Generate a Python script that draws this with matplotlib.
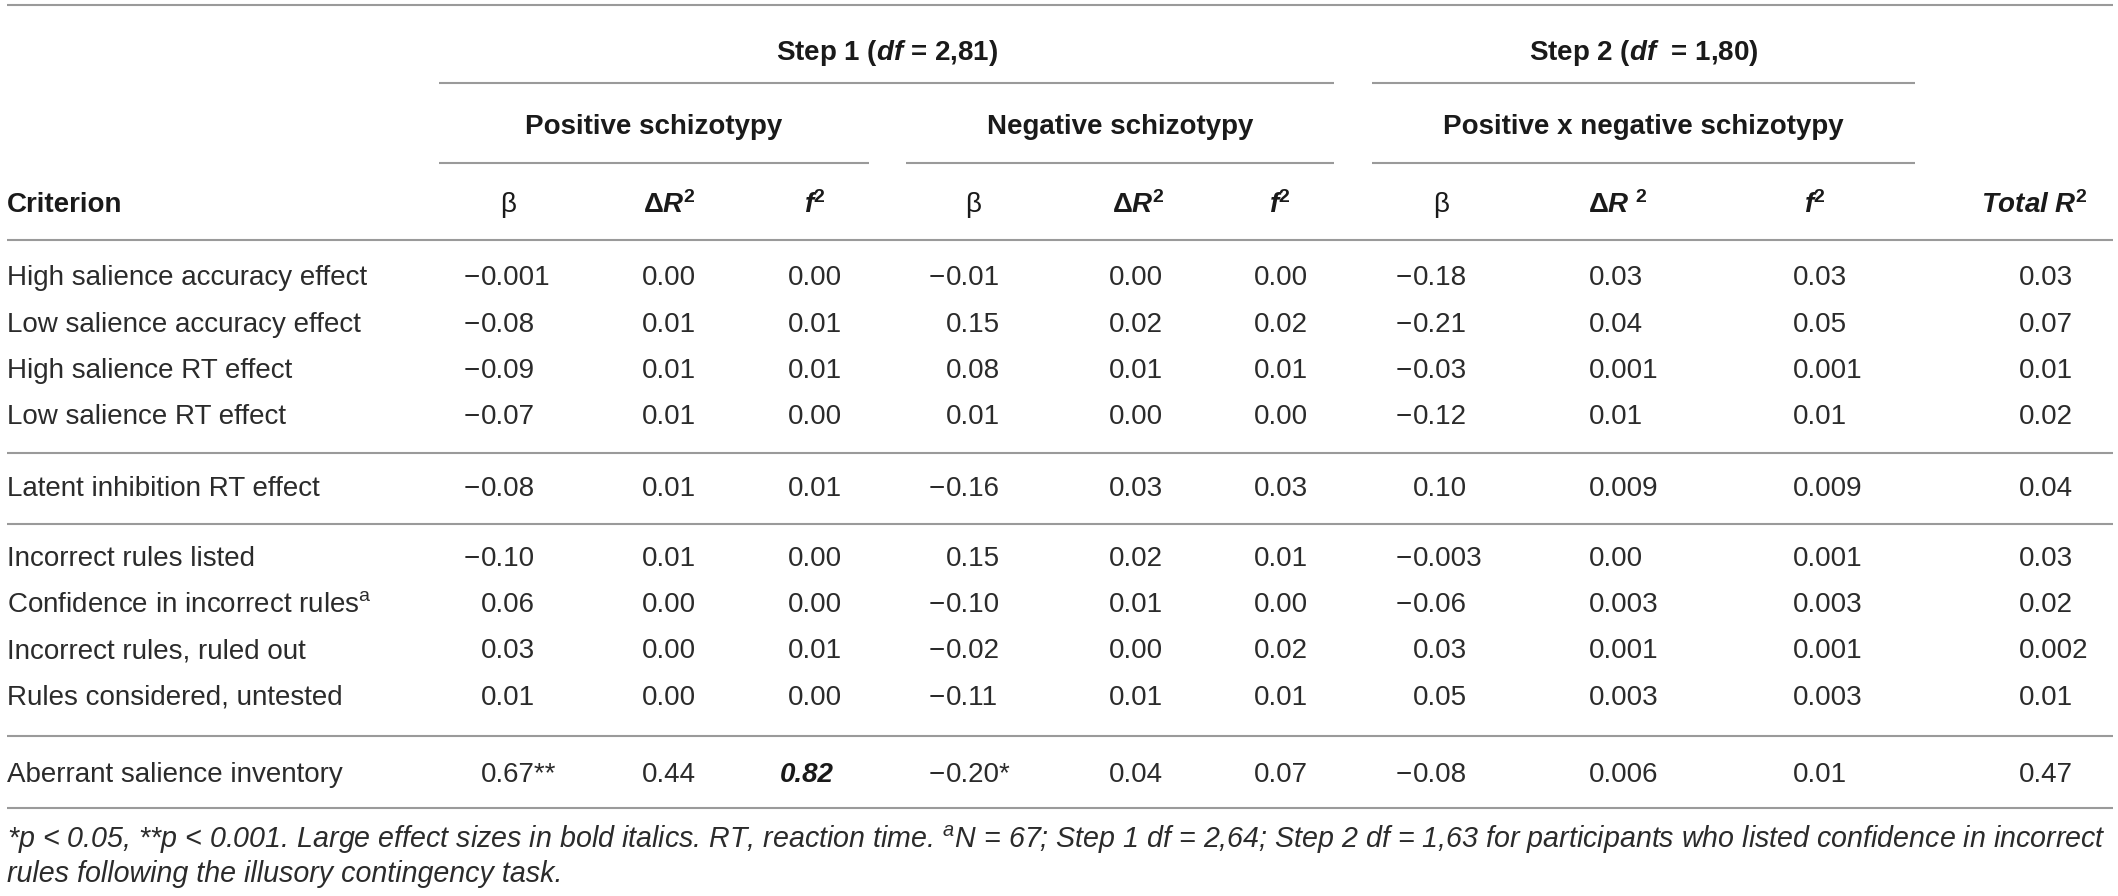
import matplotlib
matplotlib.use('Agg')
import matplotlib.pyplot as plt

plt.rcParams['font.family'] = ['Liberation Sans', 'DejaVu Sans']
plt.rcParams['mathtext.fontset'] = 'custom'
plt.rcParams['mathtext.rm'] = 'Liberation Sans'
plt.rcParams['mathtext.it'] = 'Liberation Sans:italic'
plt.rcParams['mathtext.bf'] = 'Liberation Sans:bold'
plt.rcParams['mathtext.bfit'] = 'Liberation Sans:italic:bold'

# ---- table data ----
criteria = [
    'High salience accuracy effect',
    'Low salience accuracy effect',
    'High salience RT effect',
    'Low salience RT effect',
    'Latent inhibition RT effect',
    'Incorrect rules listed',
    r'Confidence in incorrect rules$^{\mathrm{a}}$',
    'Incorrect rules, ruled out',
    'Rules considered, untested',
    'Aberrant salience inventory',
]
groups = [0, 0, 0, 0, 1, 2, 2, 2, 2, 3]

pos_beta = ['−0.001', '−0.08', '−0.09', '−0.07', '−0.08', '−0.10', '0.06', '0.03', '0.01', '0.67**']
pos_dr2 = ['0.00', '0.01', '0.01', '0.01', '0.01', '0.01', '0.00', '0.00', '0.00', '0.44']
pos_f2 = ['0.00', '0.01', '0.01', '0.00', '0.01', '0.00', '0.00', '0.01', '0.00', '0.82']
neg_beta = ['−0.01', '0.15', '0.08', '0.01', '−0.16', '0.15', '−0.10', '−0.02', '−0.11', '−0.20*']
neg_dr2 = ['0.00', '0.02', '0.01', '0.00', '0.03', '0.02', '0.01', '0.00', '0.01', '0.04']
neg_f2 = ['0.00', '0.02', '0.01', '0.00', '0.03', '0.01', '0.00', '0.02', '0.01', '0.07']
int_beta = ['−0.18', '−0.21', '−0.03', '−0.12', '0.10', '−0.003', '−0.06', '0.03', '0.05', '−0.08']
int_dr2 = ['0.03', '0.04', '0.001', '0.01', '0.009', '0.00', '0.003', '0.001', '0.003', '0.006']
int_f2 = ['0.03', '0.05', '0.001', '0.01', '0.009', '0.001', '0.003', '0.001', '0.003', '0.01']
total_r2 = ['0.03', '0.07', '0.01', '0.02', '0.04', '0.03', '0.02', '0.002', '0.01', '0.47']

# large effect sizes shown in bold italics: (row, column)
large_effects = [(9, 2)]

col_labels = ['β', r'Δ$\mathbfit{R}^{\mathbf{2}}$', r'$\mathbfit{f}^{\mathbf{2}}$',
              'β', r'Δ$\mathbfit{R}^{\mathbf{2}}$', r'$\mathbfit{f}^{\mathbf{2}}$',
              'β', r'Δ$\mathbfit{R}\ {}^{\mathbf{2}}$', r'$\mathbfit{f}^{\mathbf{2}}$',
              r'$\mathbfit{Total}\ \mathbfit{R}^{\mathbf{2}}$']
predictors = ['Positive schizotypy', 'Negative schizotypy', 'Positive x negative schizotypy']
steps = [r'Step 1 ($\mathbfit{df}$ = 2,81)', r'Step 2 ($\mathbfit{df}$  = 1,80)']

footnote = [
    r'*$p$ < 0.05, **$p$ < 0.001. Large effect sizes in bold italics. RT, reaction time. '
    r'$^{a}$N = 67; Step 1 df = 2,64; Step 2 df = 1,63 for participants who listed confidence in incorrect',
    'rules following the illusory contingency task.',
]

columns = [pos_beta, pos_dr2, pos_f2, neg_beta, neg_dr2, neg_f2,
           int_beta, int_dr2, int_f2, total_r2]

# ---- layout (pixel units) ----
W, H = 2118, 896
x_left, x_right = 7, 2113
num_x = [481, 642, 788, 946, 1109, 1254, 1413, 1589, 1793, 2019]
head_x = [508, 669, 815, 973, 1138, 1280, 1441, 1618, 1815, 2034]
pred_span = [(439, 869), (906, 1334), (1372, 1915)]
step_span = [(439, 1334), (1372, 1915)]

row0 = 278
row_h = 46.5
group_gap = [0, 25, 48, 78]
row_y = [row0 + i * row_h + group_gap[g] for i, g in enumerate(groups)]

fs = 20
ink = '#2b2b2b'
rule = '#9a9a9a'

fig = plt.figure(figsize=(W / 100, H / 100), dpi=100)
ax = fig.add_axes([0, 0, 1, 1])
ax.set_xlim(0, W)
ax.set_ylim(H, 0)
ax.axis('off')


def put_num(x, y, s, **kw):
    # align on the leading zero; a minus sign hangs to the left
    if s.startswith('−'):
        ax.text(x - 1, y, '−', ha='right', va='center', **kw)
        s = s[1:]
    ax.text(x, y, s, ha='left', va='center', **kw)


# header rules
ax.hlines(5, x_left, x_right, color=rule, lw=1.5)
for (a, b) in step_span:
    ax.hlines(83, a, b, color=rule, lw=1.5)
for (a, b) in pred_span:
    ax.hlines(163, a, b, color=rule, lw=1.5)
ax.hlines(240, x_left, x_right, color=rule, lw=1.5)

for s, (a, b) in zip(steps, step_span):
    ax.text((a + b) / 2, 53, s, ha='center', va='center', fontsize=fs,
            fontweight='bold', color='#1a1a1a')
for s, (a, b) in zip(predictors, pred_span):
    ax.text((a + b) / 2, 127, s, ha='center', va='center', fontsize=fs,
            fontweight='bold', color='#1a1a1a')

ax.text(x_left, 205, 'Criterion', ha='left', va='center', fontsize=fs,
        fontweight='bold', color='#1a1a1a')
for lab, x in zip(col_labels, head_x):
    w = 'normal' if lab == 'β' else 'bold'
    ax.text(x, 205, lab, ha='center', va='center', fontsize=fs,
            fontweight=w, color='#1a1a1a')

# body
for i, (name, y) in enumerate(zip(criteria, row_y)):
    ax.text(x_left, y, name, ha='left', va='center', fontsize=fs, color=ink)
    for j, col in enumerate(columns):
        if (i, j) in large_effects:
            put_num(num_x[j] - 8, y, col[i], fontsize=fs, color='#1a1a1a',
                    fontweight='bold', style='italic')
        else:
            put_num(num_x[j], y, col[i], fontsize=fs, color=ink)

# group separators
for k in range(1, len(groups)):
    if groups[k] != groups[k - 1]:
        ax.hlines((row_y[k - 1] + row_y[k]) / 2, x_left, x_right, color=rule, lw=1.5)
ax.hlines(row_y[-1] + 34, x_left, x_right, color=rule, lw=1.5)

for line, y in zip(footnote, [840, 874]):
    ax.text(x_left, y, line, ha='left', va='center', fontsize=20.6,
            style='italic', color=ink)

fig.savefig('out.png', dpi=100)
